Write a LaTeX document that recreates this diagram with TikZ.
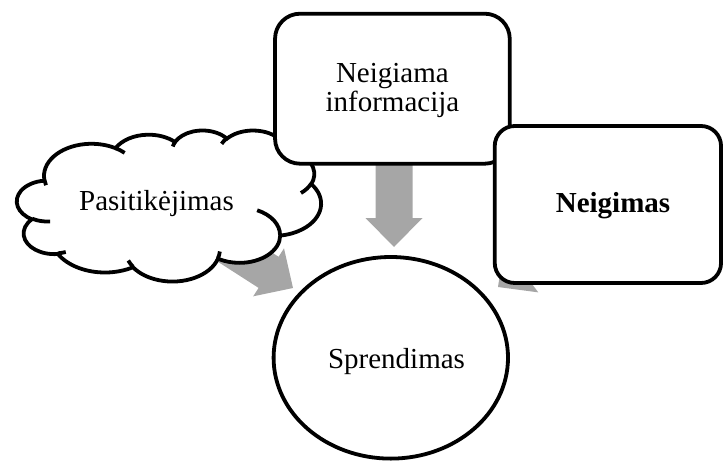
\documentclass[tikz,border=0pt]{standalone}
\usepackage{fontspec}
\setmainfont{Liberation Serif}
\usetikzlibrary{shapes.geometric}
\definecolor{flowgray}{RGB}{166,166,166}

% Block arrow: name of tip coordinate, tip position, direction (deg), total length
\newcommand\flowarrow[4]{%
  \begin{scope}[shift={(#2)}, rotate=#3]
    \coordinate (#1) at (0,0);
    \fill[flow] (0,0) -- (-29,-28.5) -- (-29,-18.5) -- (-#4,-18.5)
      -- (-#4,18.5) -- (-29,18.5) -- (-29,28.5) -- cycle;
  \end{scope}}

\tikzset{
  outline/.style={draw=black, line width=3.8pt, fill=white},
  roundbox/.style={outline, rectangle, inner sep=0pt},
  oval/.style={outline, ellipse, inner sep=0pt},
  txt/.style={font=\fontsize{29}{29}\selectfont, inner sep=0pt},
  flow/.style={fill=flowgray, draw=none},
  puff/.style={draw=black, line width=3.8pt},
  % angle along a puff ellipse -> parametric angle
  declare function={
    cvis(\t,\w,\h)=atan2(\w*sin(\t),\h*cos(\t));
  }
}

\begin{document}
\begin{tikzpicture}[x=1pt,y=-1pt]
\useasboundingbox (0,0) rectangle (723,463);

% grey block arrows (drawn first, partly hidden by the shapes)
\flowarrow{tipA}{394,247}{-90}{90}
\flowarrow{tipB}{293,288}{-32.7}{110}
\flowarrow{tipC}{498,287}{-143.1}{110}

% cloud outline (sizes in thousandths of the cloud frame)
\begin{scope}[shift={(17,130)}]
  \path[outline] ({3.900*7.0370},{14.370*3.4954})
    \foreach \w/\h/\s/\d in {
      6.753/9.190/-190.4875/123.7805,
      5.333/7.267/-144.1024/89.9452,
      4.365/5.945/-145.8079/99.7230,
      4.857/6.595/-130.9861/117.2417,
      5.333/7.273/-78.7089/109.0269,
      6.775/9.220/-46.2673/130.2690,
      5.785/7.867/0.6250/114.0333,
      6.752/9.215/22.4516/115.1726,
      7.720/10.543/66.2426/75.7110,
      4.360/5.918/-274.9421/146.7356,
      4.345/5.945/-246.8285/152.5189}{
      arc[start angle={-cvis(\s,\w,\h)},
          delta angle={-mod(cvis(\s+\d,\w,\h)-cvis(\s,\w,\h)+720,360)},
          x radius={\w*7.0370pt}, y radius={\h*3.4954pt}]
    } -- cycle;
  % inner creases of the cloud
  \foreach \mx/\my/\w/\h/\s/\d in {
      4.693/26.177/4.345/5.945/86.7420/26.4295,
      6.928/34.899/4.360/5.918/73.6105/11.4475,
      16.478/39.090/6.752/9.215/137.6242/14.0811,
      28.827/34.751/6.752/9.215/6.4533/15.9984,
      34.129/22.954/5.785/7.867/-70.2924/70.9174,
      41.798/15.354/5.333/7.273/30.3180/27.7515,
      38.324/5.426/4.857/6.595/-13.7443/14.8589,
      29.078/3.952/4.857/6.595/-149.1815/18.1954,
      22.141/4.720/4.365/5.945/-163.4943/17.6864,
      14.000/5.192/6.753/9.190/-66.7070/12.3194,
      4.127/15.789/6.753/9.190/157.6544/11.8582}{
    \draw[puff] ({\mx*7.0370},{\my*3.4954})
      arc[start angle={-cvis(\s,\w,\h)},
          delta angle={-mod(cvis(\s+\d,\w,\h)-cvis(\s,\w,\h)+720,360)},
          x radius={\w*7.0370pt}, y radius={\h*3.4954pt}];
  }
\end{scope}

% boxes and the decision ellipse
\node[roundbox, rounded corners=25pt, minimum width=234.7pt, minimum height=150pt]
  (info) at (392.4,88.7) {};
\node[roundbox, rounded corners=20pt, minimum width=226.3pt, minimum height=157pt]
  (neig) at (607.9,204.5) {};
\node[oval, minimum width=234.4pt, minimum height=201.6pt]
  (sprend) at (390.8,357.8) {};

% labels
\node[txt, align=center] (infotxt) at (392.4,90.8) {Neigiama\\informacija};
\node[txt, anchor=base] (pasit) at (156.5,210) {Pasitikėjimas};
\node[txt, anchor=base, font=\fontsize{29}{29}\selectfont\bfseries] (neigtxt) at (613,212) {Neigimas};
\node[txt, anchor=base] (sprendtxt) at (396.5,368) {Sprendimas};
\end{tikzpicture}
\end{document}
